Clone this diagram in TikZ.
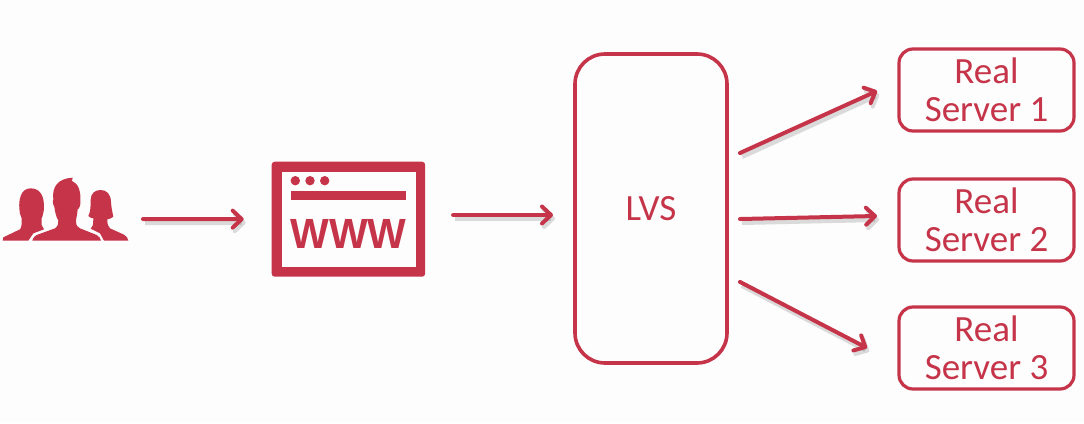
\documentclass[tikz,border=0pt]{standalone}
\usepackage{fontspec}
\setmainfont{Carlito}
\newfontfamily\wwwfont{Liberation Sans}
\usetikzlibrary{arrows.meta}
\definecolor{brand}{HTML}{C53449}
\definecolor{paper}{HTML}{FDFDFD}
\tikzset{
  x=1pt,y=-1pt,
  box/.style={draw=brand,rounded corners=#1,outer sep=0pt,inner sep=0pt,text=brand,align=center,font=\fontsize{37}{38}\selectfont},
  lvsbox/.style={box=30pt,line width=3.6pt,minimum width=152pt,minimum height=309pt},
  serverbox/.style={box=14pt,line width=3.2pt,minimum width=175pt,minimum height=82pt},
  ghost/.style={inner sep=0pt,outer sep=0pt},
  conn/.style={line width=4pt,draw=brand,line cap=round,-{Straight Barb[round,length=9pt,width=17pt,line width=4pt]},
    preaction={draw=black!55,draw opacity=.25,line width=5pt,transform canvas={xshift=2pt,yshift=-3.5pt}}},
  iconfill/.style={fill=brand,draw=none}
}
\begin{document}
\begin{tikzpicture}
\useasboundingbox[fill=paper] (0,0) rectangle (1084,423);

% users icon
\begin{scope}[shift={(0,150)},x=0.3333pt,y=-0.3333pt]
\fill[brand] (8,272) -- (10,262) -- (60,238) .. controls (66,232) and (65,215) .. (65,205) .. controls (60,195) and (58,185) .. (58,175) .. controls (56,150) and (62,115) .. (92,115) .. controls (125,115) and (132,145) .. (132,170) .. controls (132,185) and (128,198) .. (125,205) -- (125,225) -- (132,238) -- (100,250) -- (85,272) -- cycle;
\fill[brand] (97,272) .. controls (100,262) and (105,258) .. (110,255) -- (165,235) .. controls (175,228) and (175,220) .. (175,212) .. controls (168,200) and (165,185) .. (163,170) .. controls (158,165) and (158,150) .. (160,148) .. controls (155,110) and (175,85) .. (218,83) .. controls (218,90) and (215,92) .. (215,92) .. controls (235,100) and (243,125) .. (241,150) .. controls (243,165) and (238,175) .. (233,178) .. controls (232,195) and (228,205) .. (228,215) .. controls (228,228) and (235,232) .. (240,235) -- (290,255) .. controls (298,260) and (302,265) .. (303,272) -- cycle;
\fill[brand] (312,272) -- (300,250) -- (272,236) .. controls (278,232) and (280,225) .. (280,205) .. controls (275,205) and (268,202) .. (265,198) .. controls (272,185) and (272,170) .. (272,150) .. controls (272,130) and (285,120) .. (302,120) .. controls (320,120) and (332,132) .. (333,155) .. controls (334,175) and (338,190) .. (340,200) .. controls (335,205) and (328,207) .. (322,208) .. controls (322,222) and (324,230) .. (330,235) -- (372,254) .. controls (380,258) and (384,265) .. (385,272) -- cycle;
\end{scope}
\node[ghost,minimum width=125pt,minimum height=63pt] (users) at (65.5,209.5) {};

% browser icon
\node[ghost,fill=brand,rounded corners=3pt,minimum width=153.4pt,minimum height=115pt] (www) at (348.4,219.2) {};
\fill[paper] (281.7,171.7) rectangle (416,266.7);
\fill[iconfill] (295.3,180.7) circle (4.7pt) (310,180.7) circle (4.7pt) (324.7,180.7) circle (4.7pt);
\fill[iconfill] (290.7,190.7) rectangle (406,200);
\node[ghost,text=brand,font=\wwwfont\bfseries\fontsize{41}{41}\selectfont,anchor=base,yscale=1.03] (wwwtext) at (348.4,248.3) {WWW};

% LVS and real servers
\node[lvsbox] (lvs) at (651,208.5) {LVS};
\node[serverbox] (s1) at (986.5,90) {Real\\Server 1};
\node[serverbox] (s2) at (986.5,220) {Real\\Server 2};
\node[serverbox] (s3) at (986.5,348) {Real\\Server 3};

% connectors
\draw[conn,shorten <=15pt,shorten >=28pt] ([yshift=-9.5pt]users.east) -- (www.west);
\draw[conn,shorten <=28pt,shorten >=22pt] ([yshift=4.2pt]www.east) -- ([yshift=-6.5pt]lvs.west);
\draw[conn,shorten <=14.3pt,shorten >=24pt] ([yshift=49.6pt]lvs.east) -- ([yshift=9pt]s1.west);
\draw[conn,shorten <=13pt,shorten >=22pt] ([yshift=-10.8pt]lvs.east) -- ([yshift=4.5pt]s2.west);
\draw[conn,shorten <=14.6pt,shorten >=36pt] ([yshift=-66.7pt]lvs.east) -- ([yshift=-16.6pt]s3.west);
\end{tikzpicture}
\end{document}
